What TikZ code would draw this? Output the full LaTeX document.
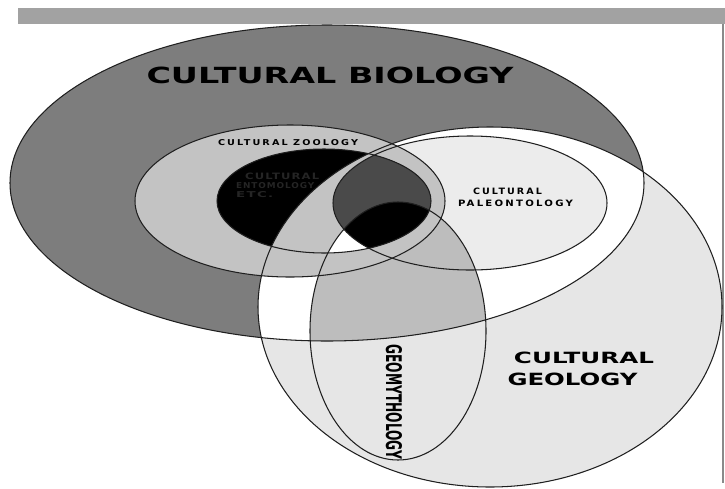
\documentclass[tikz,border=0pt]{standalone}
\usepackage{fontspec}
\setmainfont{DejaVu Sans}
\usepackage{graphicx}
\definecolor{bargray}{HTML}{A2A2A2}
\definecolor{framegray}{HTML}{8A8A8A}
\definecolor{biogray}{HTML}{7D7D7D}
\definecolor{geolight}{HTML}{E6E6E6}
\definecolor{paleo}{HTML}{ECECEC}
\definecolor{mythgray}{HTML}{BDBDBD}
\definecolor{zoo}{HTML}{C3C3C3}
\definecolor{darkzone}{HTML}{4A4A4A}
\definecolor{ento}{HTML}{252525}
\begin{document}
\begin{tikzpicture}[x=1pt,y=-1pt,
  outline/.style={draw=black!88, line width=1.05pt},
  lbl/.style={inner sep=0pt, font=\bfseries},
  thinlbl/.style={inner sep=0pt, font=\bfseries\addfontfeature{LetterSpace=22.0}},
  entolbl/.style={inner sep=0pt, font=\bfseries\addfontfeature{LetterSpace=10.0}, text=ento},
]
\useasboundingbox (0,0) rectangle (725,488);
\def\shB{(327,183) ellipse [x radius=317pt, y radius=158pt]}
\def\shG{(490,307) ellipse [x radius=232pt, y radius=180pt]}
\def\shZ{(290,201) ellipse [x radius=155pt, y radius=76pt]}
\def\shE{(324,201) ellipse [x radius=107pt, y radius=52pt]}
\def\shP{(470,203) ellipse [x radius=137pt, y radius=67pt]}
\def\shM{(398,331) ellipse [x radius=88pt, y radius=129pt]}
% frame
\fill[bargray] (18,8) rectangle (725,24);
\draw[framegray, line width=1.3pt] (723,24) -- (723,483);
% fills
\fill[geolight] \shG;
\fill[biogray] \shB;
\begin{scope}
  \clip \shG;
  \fill[white] \shB;
\end{scope}
\begin{scope}
  \clip \shB;
  \fill[paleo] \shP;
  \fill[mythgray] \shM;
\end{scope}
\fill[zoo] \shZ;
\fill[black] \shE;
\begin{scope}
  \clip \shE;
  \fill[zoo] \shG;
  \fill[white] \shM;
  \fill[darkzone] \shP;
  \begin{scope}
    \clip \shP;
    \fill[black] \shM;
  \end{scope}
\end{scope}
% outlines
\draw[outline] \shB;
\draw[outline] \shG;
\draw[outline] \shZ;
\draw[outline] \shE;
\draw[outline] \shP;
\draw[outline] \shM;
% labels
\node[lbl] (bio) at (330,75) {\resizebox{367pt}{16.5pt}{CULTURAL BIOLOGY}};
\node[thinlbl] (zool) at (288,143) {\resizebox{140pt}{6pt}{CULTURAL ZOOLOGY}};
\node[thinlbl] (pal1) at (507.5,191.5) {\resizebox{69pt}{6.5pt}{CULTURAL}};
\node[thinlbl] (pal2) at (515.5,203) {\resizebox{115pt}{6.5pt}{PALEONTOLOGY}};
\node[entolbl, anchor=west] (ent1) at (245,176.5) {\resizebox{74pt}{6.5pt}{CULTURAL}};
\node[entolbl, anchor=west] (ent2) at (236,186) {\resizebox{78pt}{6pt}{ENTOMOLOGY}};
\node[entolbl, anchor=west] (ent3) at (236,195) {\resizebox{37pt}{6pt}{ETC.}};
\node[lbl, rotate=-90] (myth) at (394,402) {\resizebox{115pt}{16pt}{GEOMYTHOLOGY}};
\node[lbl] (geo1) at (584,357.5) {\resizebox{140pt}{11.5pt}{CULTURAL}};
\node[lbl] (geo2) at (572.5,379.5) {\resizebox{130pt}{12.5pt}{GEOLOGY}};
\end{tikzpicture}
\end{document}
